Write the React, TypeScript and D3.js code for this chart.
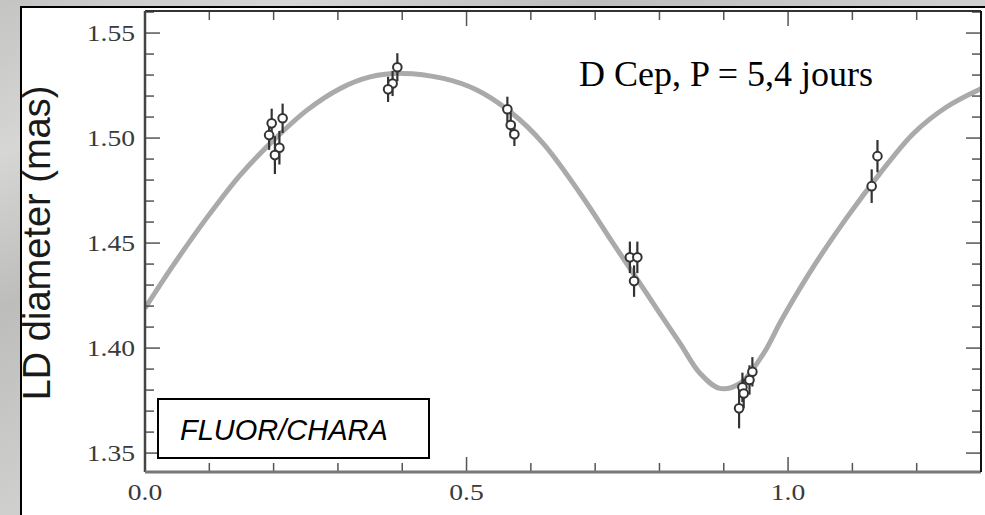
import * as d3 from "d3";

// fitted curve (phase, LD diameter in mas)
const curvePhase = [
  0.0, 0.044, 0.096, 0.148, 0.2, 0.252, 0.303, 0.35, 0.4, 0.464, 0.516, 0.568, 0.619, 0.677, 0.728,
  0.78, 0.832, 0.863, 0.894, 0.925, 0.962, 0.99, 1.04, 1.091, 1.143, 1.195, 1.247, 1.3,
];
const curveDiam = [
  1.419, 1.4395, 1.462, 1.4824, 1.499, 1.5133, 1.5235, 1.5291, 1.5308, 1.5284, 1.5229, 1.5125,
  1.4975, 1.4735, 1.4499, 1.426, 1.4022, 1.388, 1.3808, 1.3832, 1.3975, 1.4135, 1.439, 1.462,
  1.4832, 1.5022, 1.5149, 1.5235,
];

// measurements
const pointPhase = [
  0.197, 0.214, 0.193, 0.209, 0.202, 0.3924, 0.385, 0.378, 0.5635, 0.5687, 0.5744, 0.754, 0.7656,
  0.7605, 0.9445, 0.94, 0.929, 0.931, 0.9238, 1.139, 1.13,
];
const pointDiam = [
  1.507, 1.5094, 1.5014, 1.4954, 1.4919, 1.5337, 1.526, 1.5232, 1.5137, 1.5062, 1.5018, 1.4432,
  1.4432, 1.4319, 1.3887, 1.3848, 1.3813, 1.3784, 1.3713, 1.4914, 1.4771,
];
const pointErr = [
  0.007, 0.007, 0.007, 0.008, 0.009, 0.0067, 0.006, 0.006, 0.006, 0.006, 0.0056, 0.0075, 0.0075,
  0.0075, 0.007, 0.007, 0.007, 0.007, 0.0095, 0.0077, 0.008,
];

const yTickValues = [1.35, 1.4, 1.45, 1.5, 1.55];
const xTickValues = [0, 0.5, 1.0];

const W = 985;
const H = 515;
const left = 145;
const right = 981;
const top = 11;
const bottom = 472;

const App = () => {
  const x = d3.scaleLinear().domain([0, 1.3]).range([left, right]);
  const y = d3.scaleLinear().domain([1.341, 1.5605]).range([bottom, top]);

  const curve = curvePhase.map((p, i) => [p, curveDiam[i]] as [number, number]);
  const line = d3
    .line<[number, number]>()
    .x((d) => x(d[0]))
    .y((d) => y(d[1]))
    .curve(d3.curveCatmullRom.alpha(0.5));

  const xMinor = d3.range(0, 14).map((i) => i / 10);
  const yMinor = d3.range(135, 157).map((i) => i / 100);
  const isMajorY = (v: number) => Math.abs(v * 20 - Math.round(v * 20)) < 1e-6;
  const isMajorX = (v: number) => Math.abs(v * 2 - Math.round(v * 2)) < 1e-6;

  const tickColor = "#555";
  const labelStyle = { fontFamily: "'Liberation Serif', 'Times New Roman', serif", fontSize: 23, fill: "#3a3a3a" };

  return (
    <svg width={W} height={H} style={{ position: "absolute", left: 0, top: 0 }}>
      <defs>
        <linearGradient id="marble" x1="0" y1="0" x2="1" y2="1">
          <stop offset="0" stopColor="#c4c4c2" />
          <stop offset="0.15" stopColor="#d6d6d4" />
          <stop offset="0.3" stopColor="#bdbdbb" />
          <stop offset="0.5" stopColor="#cfcfcd" />
          <stop offset="0.7" stopColor="#b9b9b7" />
          <stop offset="1" stopColor="#d2d2d0" />
        </linearGradient>
        <clipPath id="plotClip">
          <rect x={left} y={top} width={right - left} height={bottom - top} />
        </clipPath>
      </defs>

      <rect x={0} y={0} width={W} height={H} fill="url(#marble)" />
      <rect x={21} y={7} width={W} height={H} fill="#fff" stroke="#000" strokeWidth={2} />

      {/* fitted curve */}
      <path
        d={line(curve) ?? ""}
        fill="none"
        stroke="#aaa"
        strokeWidth={5}
        clipPath="url(#plotClip)"
      />

      {/* error bars and points */}
      {pointPhase.map((p, i) => (
        <line
          key={"e" + i}
          x1={x(p)}
          x2={x(p)}
          y1={y(pointDiam[i] - pointErr[i])}
          y2={y(pointDiam[i] + pointErr[i])}
          stroke="#333"
          strokeWidth={2.2}
        />
      ))}
      {pointPhase.map((p, i) => (
        <circle key={"c" + i} cx={x(p)} cy={y(pointDiam[i])} r={4.3} fill="#fff" stroke="#333" strokeWidth={2} />
      ))}

      {/* ticks: inward on all four sides */}
      {xMinor.map((v) => {
        const len = isMajorX(v) ? 15 : 9;
        return (
          <g key={"xt" + v}>
            <line x1={x(v)} x2={x(v)} y1={bottom} y2={bottom - len} stroke={tickColor} strokeWidth={1.5} />
            <line x1={x(v)} x2={x(v)} y1={top} y2={top + len} stroke={tickColor} strokeWidth={1.5} />
          </g>
        );
      })}
      {yMinor.map((v) => {
        const len = isMajorY(v) ? 15 : 9;
        return (
          <g key={"yt" + v}>
            <line x1={left} x2={left + len} y1={y(v)} y2={y(v)} stroke={tickColor} strokeWidth={1.5} />
            <line x1={right} x2={right - len} y1={y(v)} y2={y(v)} stroke={tickColor} strokeWidth={1.5} />
          </g>
        );
      })}

      {/* frame */}
      <line x1={left} x2={right} y1={top} y2={top} stroke="#333" strokeWidth={2} />
      <line x1={left} x2={left} y1={top} y2={bottom} stroke="#444" strokeWidth={2.5} />
      <line x1={left} x2={right} y1={bottom} y2={bottom} stroke="#777" strokeWidth={3} />
      <line x1={right} x2={right} y1={top} y2={bottom} stroke="#111" strokeWidth={2} />

      {/* tick labels */}
      {yTickValues.map((v) => (
        <text
          key={"yl" + v}
          transform={`translate(135,${y(v) + 8}) scale(1.2,1)`}
          textAnchor="end"
          style={labelStyle}
        >
          {v.toFixed(2)}
        </text>
      ))}
      {xTickValues.map((v) => (
        <text
          key={"xl" + v}
          transform={`translate(${x(v)},500) scale(1.2,1)`}
          textAnchor="middle"
          style={labelStyle}
        >
          {v.toFixed(1)}
        </text>
      ))}

      {/* axis title */}
      <text
        transform="translate(50,243) rotate(-90)"
        textAnchor="middle"
        style={{ fontFamily: "'Liberation Sans', Arial, sans-serif", fontSize: 38, fill: "#1a1a1a" }}
      >
        LD diameter (mas)
      </text>

      <text
        x={579}
        y={86}
        style={{ fontFamily: "'Liberation Serif', 'Times New Roman', serif", fontSize: 36, fill: "#000" }}
      >
        D Cep, P = 5,4 jours
      </text>

      <rect x={158} y={399} width={271} height={59} fill="#fff" stroke="#000" strokeWidth={2} />
      <text
        x={180}
        y={440}
        style={{
          fontFamily: "'Liberation Sans', Arial, sans-serif",
          fontSize: 29,
          fontStyle: "italic",
          fill: "#000",
        }}
      >
        FLUOR/CHARA
      </text>
    </svg>
  );
};

export default App;
